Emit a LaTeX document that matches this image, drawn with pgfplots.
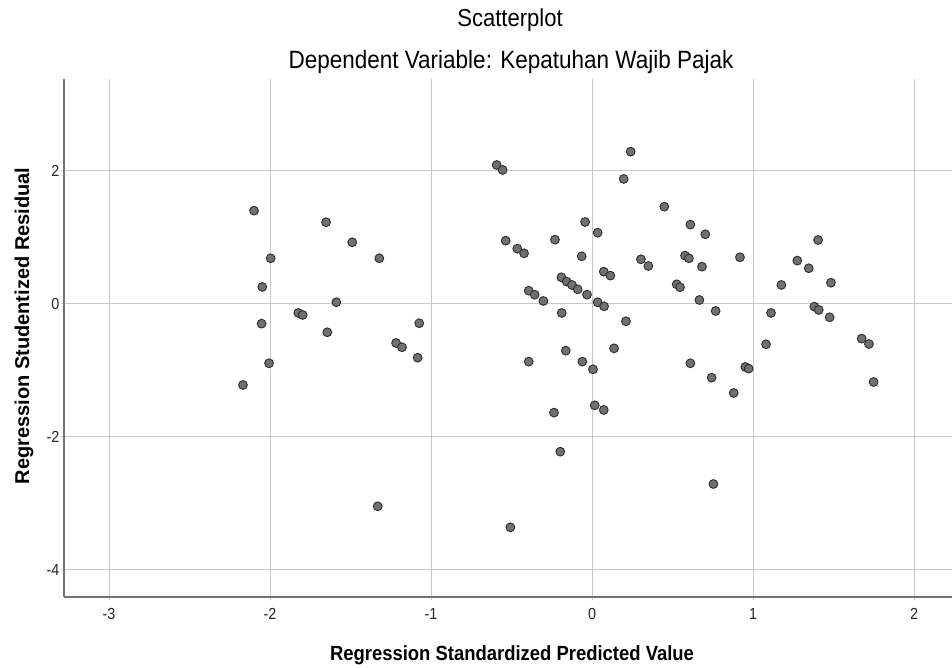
\documentclass[border=0pt]{standalone}
\usepackage{pgfplots}
\pgfplotsset{compat=1.18}
\usepackage{fontspec}
\setmainfont{Liberation Sans}
\newfontfamily\cond[FakeStretch=0.9]{Liberation Sans}
\definecolor{ptfill}{RGB}{112,112,112}
\definecolor{ptdraw}{RGB}{45,45,45}
\definecolor{gridc}{RGB}{200,200,200}
\definecolor{axc}{RGB}{115,115,115}
\begin{document}
\begin{tikzpicture}[x=1pt,y=1pt]
\path[use as bounding box] (0,0) rectangle (952,668);
\begin{axis}[
  at={(64pt,71pt)}, anchor=south west,
  scale only axis, width=888pt, height=518pt,
  xmin=-3.2795, xmax=2.236, ymin=-4.406, ymax=3.383,
  axis x line*=bottom, axis y line*=left,
  axis line style={-, draw=axc, line width=1.5pt},
  xtick={-3,-2,-1,0,1,2}, xticklabels={-3,-2,-1,0,1,2},
  ytick={-4,-2,0,2}, yticklabels={-4,-2,0,2},
  grid=major, major grid style={draw=gridc, line width=1pt},
  tick align=outside, major tick length=3pt,
  tick style={draw=gridc, line width=1pt},
  ticklabel style={font=\cond\fontsize{16}{18}\selectfont, text=black!85},
  xticklabel style={yshift=-5pt},
  yticklabel style={xshift=2pt},
  clip=false,
]
\addplot[only marks, mark=*, mark size=4.4pt, mark options={fill=ptfill, draw=ptdraw, line width=0.9pt}] table {
x y
-2.099 1.403
-1.652 1.229
-1.489 0.928
-1.321 0.687
-1.996 0.687
-2.048 0.256
-1.588 0.026
-1.824 -0.135
-1.797 -0.165
-2.052 -0.296
-1.073 -0.290
-1.644 -0.426
-1.217 -0.586
-1.180 -0.651
-1.083 -0.808
-2.006 -0.892
-2.168 -1.218
-1.331 -3.042
-0.592 2.090
-0.555 2.015
0.240 2.290
0.197 1.880
-0.043 1.233
0.035 1.072
-0.536 0.952
-0.230 0.967
-0.464 0.832
-0.422 0.762
-0.064 0.717
0.073 0.486
0.114 0.426
-0.190 0.401
-0.157 0.336
-0.124 0.286
-0.089 0.221
-0.393 0.200
-0.356 0.140
-0.302 0.045
-0.031 0.140
0.035 0.026
0.075 -0.035
-0.188 -0.135
0.211 -0.260
-0.163 -0.702
-0.393 -0.867
-0.060 -0.867
0.137 -0.667
0.006 -0.982
0.017 -1.524
0.073 -1.594
-0.236 -1.634
-0.197 -2.221
-0.507 -3.358
0.449 1.463
0.611 1.193
0.704 1.048
0.304 0.672
0.350 0.571
0.578 0.727
0.602 0.687
0.683 0.561
0.919 0.702
0.526 0.296
0.547 0.251
0.667 0.060
0.768 -0.105
0.611 -0.892
0.743 -1.108
0.880 -1.338
0.952 -0.947
0.973 -0.972
1.176 0.286
1.275 0.652
1.346 0.537
1.404 0.962
1.112 -0.135
1.081 -0.606
1.381 -0.040
1.408 -0.090
1.484 0.320
1.476 -0.200
1.675 -0.521
1.720 -0.602
1.749 -1.173
0.754 -2.707
};
\end{axis}
\node[anchor=base, font=\cond\fontsize{24.5}{26}\selectfont] at (510,641) {Scatterplot};
\node[anchor=base, font=\cond\fontsize{25}{27}\selectfont] at (511,599) {Dependent Variable: Kepatuhan Wajib Pajak};
\node[anchor=base, font=\cond\fontsize{20.5}{22}\selectfont\bfseries] at (512,7) {Regression Standardized Predicted Value};
\node[rotate=90, anchor=center, font=\fontsize{20}{22}\selectfont\bfseries] at (24,342) {Regression Studentized Residual};
\end{tikzpicture}
\end{document}
